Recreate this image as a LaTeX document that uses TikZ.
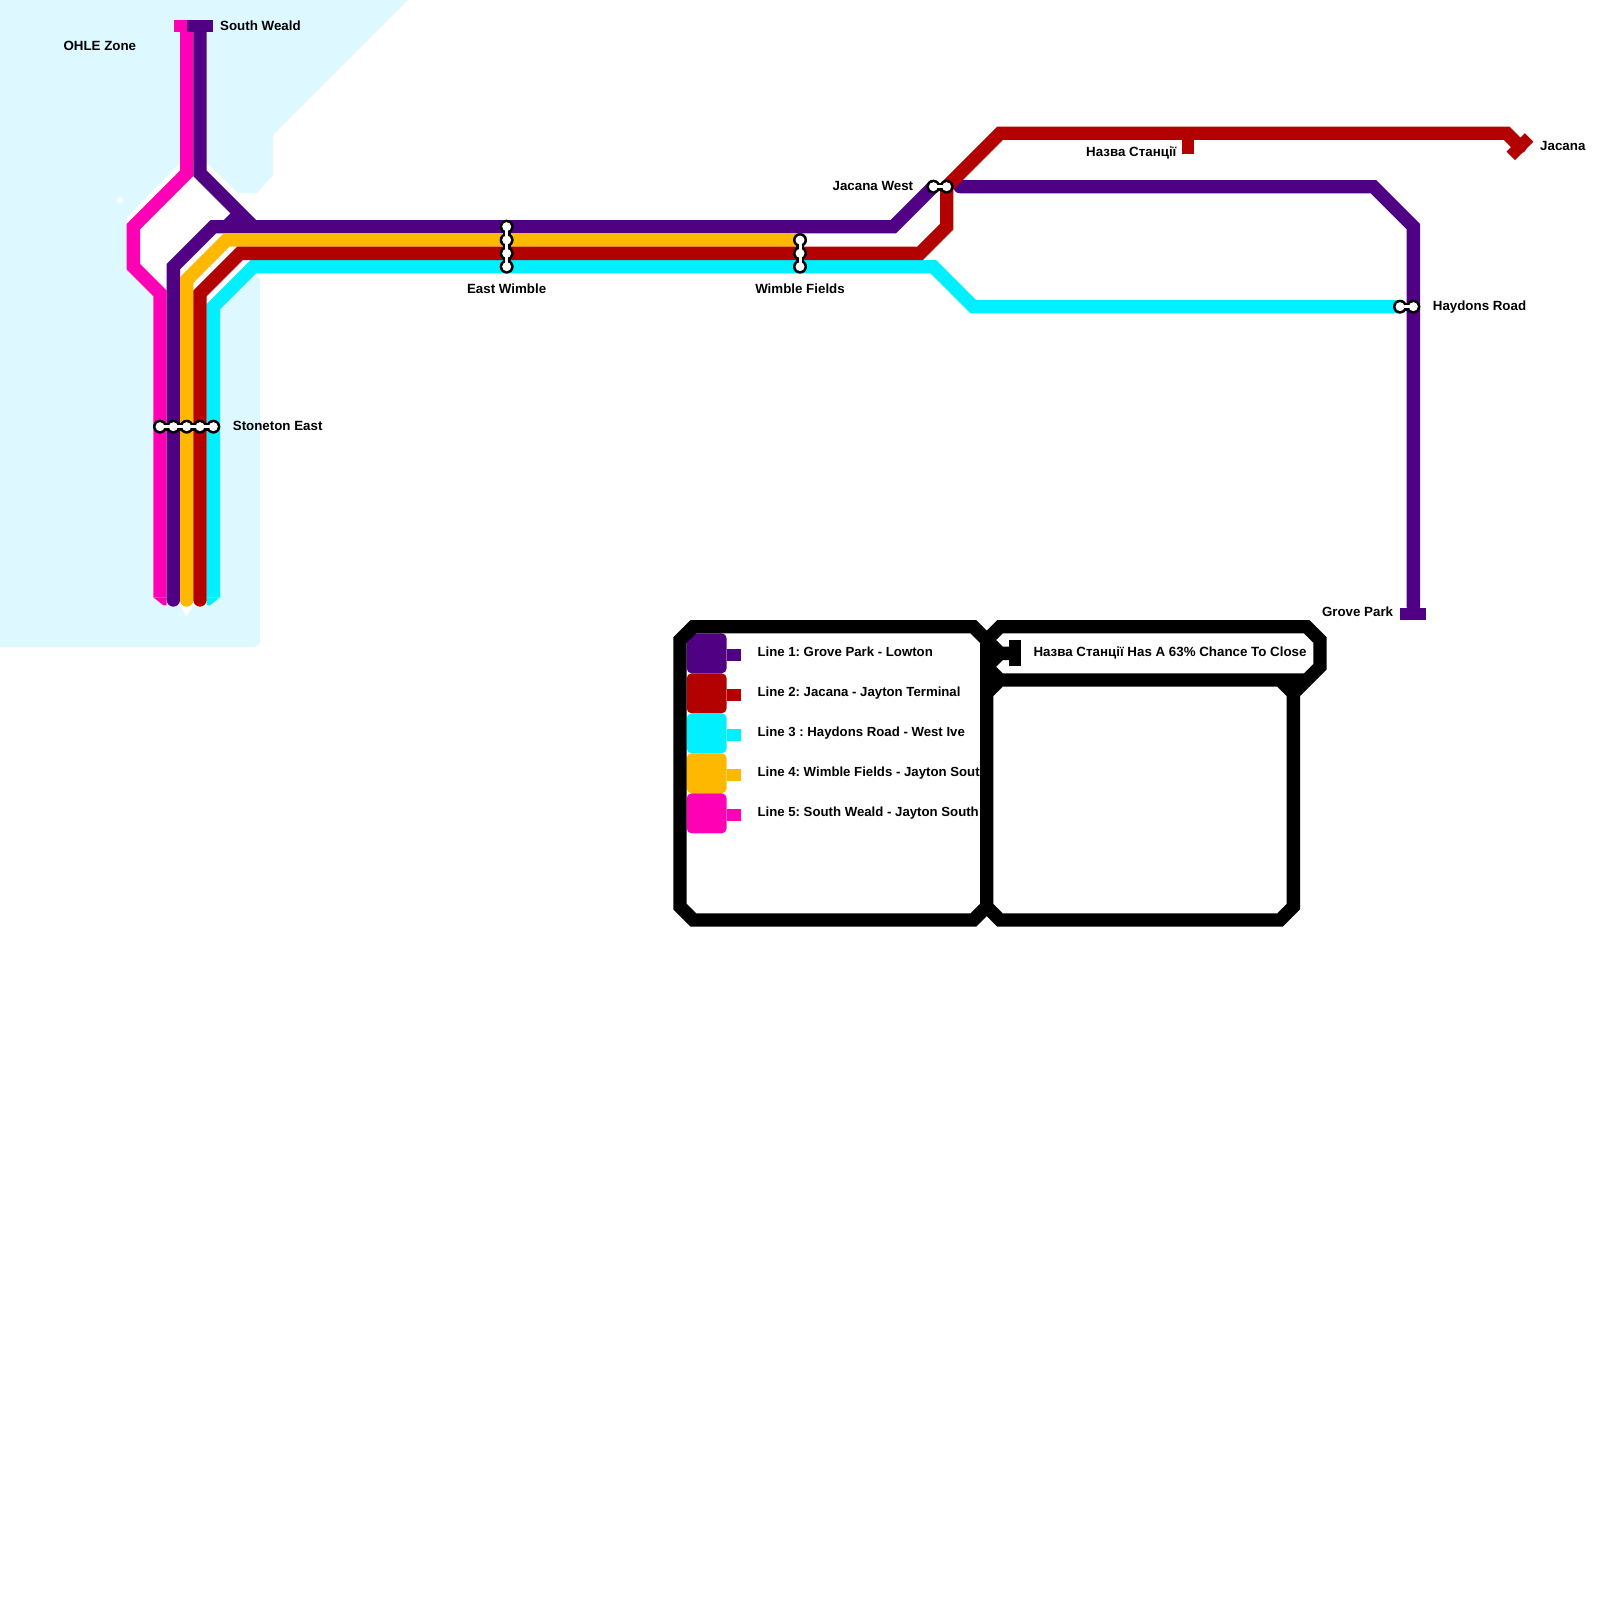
\documentclass[tikz,border=0pt]{standalone}
\usepackage{fontspec}
\setmainfont{Liberation Sans}
\frenchspacing
\definecolor{lineone}{RGB}{80,0,130}
\definecolor{linetwo}{RGB}{179,0,0}
\definecolor{linethree}{RGB}{0,240,255}
\definecolor{linefour}{RGB}{255,184,0}
\definecolor{linefive}{RGB}{255,0,180}
\definecolor{zonefill}{RGB}{222,248,255}

\begin{document}
\begin{tikzpicture}[x=13.333pt,y=-13.333pt,
  route/.style={line width=13.333pt},
  capped/.style={route,line cap=round},
  frameline/.style={line width=13.333pt,black},
  termbar/.style={rectangle,inner sep=0pt,outer sep=0pt,minimum width=26pt,minimum height=12pt},
  stnring/.style={circle,fill=black,inner sep=0pt,minimum size=14pt},
  stnhole/.style={circle,fill=white,inner sep=0pt,minimum size=9pt},
  stnlink/.style={line width=8pt,black},
  stnchannel/.style={line width=3pt,white},
  keybox/.style={rectangle,rounded corners=5pt,inner sep=0pt,outer sep=0pt,minimum size=40pt},
  keystub/.style={rectangle,inner sep=0pt,outer sep=0pt,minimum width=14.5pt,minimum height=11.6pt},
  lbl/.style={inner sep=0pt,text height=9.5pt,text depth=0pt,font=\fontsize{13.33}{16}\selectfont\bfseries},
  keylbl/.style={lbl,font=\fontsize{13.2}{16}\selectfont\bfseries}]
% interchange helper: #1 = name, #2 = last index, #3 = list of index/x/y
\newcommand{\interchange}[3]{%
  \foreach \n/\x/\y in {#3} \node[stnring] (#1\n) at (\x,\y) {};
  \draw[stnlink] (#11.center) -- (#1#2.center);
  \foreach \n/\x/\y in {#3} \node[stnhole] (#1h\n) at (\x,\y) {};
  \draw[stnchannel] (#11.center) -- (#1#2.center);
}
\useasboundingbox (0,0) rectangle (120,120);
% OHLE zone, in pixels
\begin{scope}[x=1pt,y=-1pt]
\fill[zonefill] (0,0) -- (408,0) -- (273,135) -- (273,175) -- (257,193) -- (238,193)
  -- (207,163) -- (180,163) -- (127,217) -- (127,270) -- (153,296) -- (153,597)
  -- (163,606) -- (180,606) -- (186.7,617) -- (193,606) -- (207,606) -- (220,597)
  -- (220,306) -- (250,273) -- (256,274) -- (260,280) -- (260,643) -- (255,647)
  -- (0,647) -- cycle;
\fill[white] (120,196.5) -- (123.5,200) -- (120,203.5) -- (116.5,200) -- cycle;
\end{scope}
% line 5
\draw[route,linefive] (14,2) -- (14,13) -- (10,17) -- (10,20) -- (12,22) -- (12,44.8);
\fill[linefive] (11.5,44.8) -- (12.25,45.4) -- (12.5,45.4) -- (12.5,44.8) -- cycle;
\node[termbar,fill=linefive] (weald5) at (14,1.95) {};
% line 1
\draw[route,lineone] (15,2) -- (15,13) -- (19,17);
\draw[route,lineone] (18,16) -- (17,17);
\draw[capped,lineone] (13,45) -- (13,20) -- (16,17) -- (67,17) -- (70,14);
\draw[capped,lineone] (72,14) -- (103,14) -- (106,17) -- (106,45.5);
\node[termbar,fill=lineone] (weald1) at (15,1.95) {};
\node[termbar,fill=lineone] (grove) at (106,46.05) {};
% line 3
\draw[route,linethree] (16,44.8) -- (16,23) -- (19,20) -- (70,20) -- (73,23) -- (105,23);
\fill[linethree] (16.5,44.8) -- (15.75,45.4) -- (15.5,45.4) -- (15.5,44.8) -- cycle;
% line 4
\draw[capped,linefour] (14,45) -- (14,21) -- (17,18) -- (60,18);
% line 2
\draw[capped,linetwo] (15,45) -- (15,22) -- (18,19) -- (69,19) -- (71,17) -- (71,14)
  -- (75,10) -- (113,10) -- (114,11);
\draw[line width=11.7pt,linetwo] (89.1,10) -- (89.1,11.55);
\node[termbar,fill=linetwo,rotate=45] (jacana) at (114,11) {};
% stations
\interchange{se}{5}{1/12/32,2/13/32,3/14/32,4/15/32,5/16/32}
\interchange{ew}{4}{1/38/17,2/38/18,3/38/19,4/38/20}
\interchange{wf}{3}{1/60/18,2/60/19,3/60/20}
\interchange{jw}{2}{1/70/14,2/71/14}
\interchange{hr}{2}{1/105/23,2/106/23}
% labels
\node[lbl,anchor=west] (ohle) at (4.75,3.4) {OHLE Zone};
\node[lbl,anchor=west] at (16.5,1.9) {South Weald};
\node[lbl,anchor=west] at (17.45,31.9) {Stoneton East};
\node[lbl] at (38,21.65) {East Wimble};
\node[lbl] at (60,21.65) {Wimble Fields};
\node[lbl,anchor=east] at (68.5,13.9) {Jacana West};
\node[lbl,anchor=east] at (88.25,11.4) {Назва Станції};
\node[lbl,anchor=west] at (115.5,10.9) {Jacana};
\node[lbl,anchor=west] at (107.45,22.9) {Haydons Road};
\node[lbl,anchor=east] at (104.5,45.9) {Grove Park};
% key
\foreach \n/\y/\col/\txt in {1/49/lineone/Line 1: Grove Park - Lowton,
    2/52/linetwo/Line 2: Jacana - Jayton Terminal,
    3/55/linethree/Line 3 : Haydons Road - West Ive,
    4/58/linefour/Line 4: Wimble Fields - Jayton South,
    5/61/linefive/Line 5: South Weald - Jayton South}{
  \node[keybox,fill=\col] (key\n) at (53,\y) {};
  \node[keystub,fill=\col,anchor=west] (stub\n) at ([yshift=-1.7pt]key\n.east) {};
  \node[keylbl,anchor=west] (txt\n) at (56.8,\y-0.1) {\txt};
}
% frames
\draw[frameline] (52,47) -- (73,47) -- (74,48) -- (74,68) -- (73,69) -- (52,69)
  -- (51,68) -- (51,48) -- cycle;
\draw[frameline] (74,48) -- (75,47) -- (98,47) -- (99,48) -- (99,50) -- (97,52)
  -- (97,68) -- (96,69) -- (75,69) -- (74,68);
\draw[frameline] (74,52) -- (75,51) -- (98,51);
\draw[frameline] (96,51) -- (97,52);
\draw[frameline] (74,50) -- (75,51);
\draw[frameline] (74,48) -- (75,49) -- (76,49);
\draw[frameline] (74,50) -- (75,49);
\node[termbar,fill=black,rotate=90] (note) at (76.1,49) {};
\node[lbl,anchor=west] at (77.5,48.9) {Назва Станції Has A 63\% Chance To Close};
\end{tikzpicture}
\end{document}
